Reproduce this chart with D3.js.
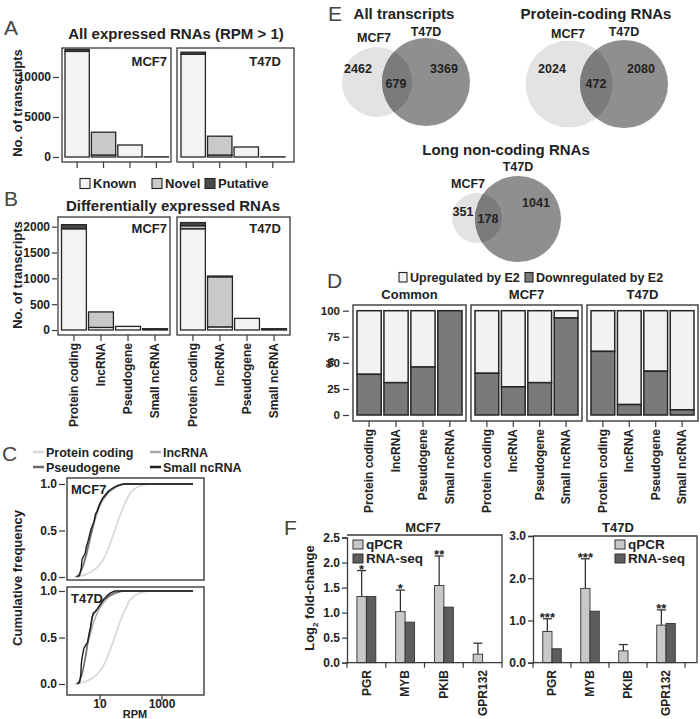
<!DOCTYPE html>
<html><head><meta charset="utf-8">
<script src="https://cdn.jsdelivr.net/npm/d3@7"></script>
<style>
body{margin:0;background:#fff}
text{font-family:"Liberation Sans",Arial,Helvetica,sans-serif}
</style>
</head><body>
<svg id="c" width="700" height="719"></svg>
<script>
// ---------------- DATA ----------------
const rnaTypes = ["Protein coding", "lncRNA", "Pseudogene", "Small ncRNA"];
const segNames = ["Known", "Novel", "Putative"];
// Panel A: all expressed RNAs (RPM > 1)
const allKnownMCF7 = [13200, 250, 1500, 20];
const allNovelMCF7 = [0, 2850, 0, 0];
const allPutativeMCF7 = [250, 0, 0, 0];
const allKnownT47D = [12850, 250, 1250, 20];
const allNovelT47D = [0, 2350, 0, 0];
const allPutativeT47D = [250, 0, 0, 0];
const allTicks = [0, 5000, 10000];
// Panel B: differentially expressed RNAs
const deKnownMCF7 = [1960, 50, 70, 25];
const deNovelMCF7 = [0, 300, 0, 0];
const dePutativeMCF7 = [80, 0, 0, 0];
const deKnownT47D = [1960, 60, 225, 25];
const deNovelT47D = [60, 970, 0, 0];
const dePutativeT47D = [60, 15, 0, 0];
const deTicks = [0, 500, 1000, 1500, 2000];
// Panel C: cumulative frequency curves [RPM, cumulative frequency]
const cdfPcMCF7 = [[1.5,0],[2,0.005],[3,0.02],[5,0.05],[8,0.1],[12,0.17],[16,0.25],[22,0.37],[30,0.5],[45,0.67],[65,0.8],[93,0.9],[130,0.95],[200,0.98],[350,1],[10000,1]];
const cdfLncMCF7 = [[1.6,0],[2,0.02],[2.5,0.07],[3,0.13],[3.5,0.2],[4,0.28],[5,0.42],[6,0.53],[7,0.62],[9,0.73],[12,0.82],[18,0.9],[28,0.95],[40,0.98],[60,1],[10000,1]];
const cdfPseudoMCF7 = [[1.7,0],[2.2,0.03],[2.6,0.09],[3,0.15],[3.5,0.23],[4,0.31],[5,0.45],[6,0.56],[7,0.65],[9,0.76],[12,0.85],[18,0.92],[28,0.96],[40,0.99],[55,1],[10000,1]];
const cdfSmallMCF7 = [[1.9,0],[2.2,0.02],[2.5,0.1],[2.6,0.18],[2.9,0.22],[3.3,0.25],[3.6,0.32],[4,0.37],[4.6,0.45],[5.2,0.52],[5.8,0.56],[6.5,0.6],[7.2,0.68],[8,0.7],[9,0.75],[10,0.79],[12,0.84],[15,0.88],[20,0.93],[30,0.97],[45,0.99],[60,1],[10000,1]];
const cdfPcT47D = [[1.5,0],[2,0.005],[3,0.02],[5,0.05],[8,0.1],[12,0.18],[16,0.26],[22,0.38],[30,0.5],[45,0.68],[65,0.8],[90,0.9],[130,0.95],[200,0.98],[350,1],[10000,1]];
const cdfLncT47D = [[1.7,0],[2,0.02],[2.5,0.08],[3,0.18],[3.5,0.3],[4,0.42],[5,0.55],[6,0.65],[8,0.76],[10,0.82],[14,0.89],[20,0.94],[30,0.97],[45,0.99],[60,1],[10000,1]];
const cdfPseudoT47D = [[1.8,0],[2.2,0.03],[2.6,0.1],[3,0.2],[3.5,0.32],[4,0.45],[5,0.6],[5.5,0.72],[6.5,0.76],[8,0.8],[10,0.85],[13,0.9],[20,0.95],[30,0.98],[50,1],[10000,1]];
const cdfSmallT47D = [[1.9,0],[2.2,0.02],[2.4,0.1],[2.5,0.22],[2.7,0.3],[3,0.38],[3.5,0.42],[4,0.45],[4.5,0.55],[5,0.62],[5.5,0.7],[6,0.76],[7,0.78],[8,0.8],[10,0.85],[13,0.91],[17,0.95],[22,0.98],[30,1],[10000,1]];
const cdfYTicks = [0, 0.5, 1];
const cdfXTicks = [10, 1000];
// Panel E: Venn counts [MCF7 only, shared, T47D only]
const vennTitles = ["All transcripts", "Protein-coding RNAs", "Long non-coding RNAs"];
const vennAll = [2462, 679, 3369];
const vennCoding = [2024, 472, 2080];
const vennLnc = [351, 178, 1041];
// Panel D: % up / down regulated by E2
const dFacets = ["Common", "MCF7", "T47D"];
const downCommon = [39, 31, 46, 100];
const upCommon = [61, 69, 54, 0];
const downMCF7 = [40, 27, 31, 93];
const upMCF7 = [60, 73, 69, 7];
const downT47D = [61, 10, 42, 5];
const upT47D = [39, 90, 58, 95];
const pctTicks = [0, 25, 50, 75, 100];
// Panel F: qPCR validation
const genes = ["PGR", "MYB", "PKIB", "GPR132"];
const qpcrMCF7 = [1.32, 1.02, 1.54, 0.17];
const qpcrErrMCF7 = [0.52, 0.43, 0.59, 0.22];
const rnaseqMCF7 = [1.32, 0.81, 1.11, 0];
const sigMCF7 = ["*", "*", "**", ""];
const qpcrT47D = [0.74, 1.76, 0.28, 0.89];
const qpcrErrT47D = [0.3, 0.7, 0.15, 0.36];
const rnaseqT47D = [0.33, 1.22, 0, 0.93];
const sigT47D = ["***", "***", "", "**"];
const fTicksMCF7 = [0, 0.5, 1, 1.5, 2, 2.5];
const fTicksT47D = [0, 1, 2, 3];

// ---------------- DRAWING ----------------
const svg = d3.select("#c");
const INK = "#222";
const BOX = "#3a3a3a";
const colKnown = "#f3f3f3", colNovel = "#c9c9c9", colPut = "#4a4a4a";

function label(g, x, y, s, size, anchor = "start", weight = "bold", fill = INK) {
  return g.append("text").attr("x", x).attr("y", y).text(s)
    .attr("font-size", size).attr("font-weight", weight)
    .attr("text-anchor", anchor).attr("fill", fill);
}
function vlabel(g, x, y, s, size, anchor = "end") {
  return g.append("text")
    .attr("transform", `translate(${x},${y}) rotate(-90)`)
    .attr("text-anchor", anchor).attr("dy", "0.35em")
    .attr("font-size", size).attr("font-weight", "bold").attr("fill", INK).text(s);
}
function box(g, x0, y0, x1, y1, w = 1.3) {
  g.append("rect").attr("x", x0).attr("y", y0).attr("width", x1 - x0).attr("height", y1 - y0)
    .attr("fill", "none").attr("stroke", BOX).attr("stroke-width", w);
}
function leftAxis(g, x, scale, ticks, fmt, size, pad, fontSize, keepDomain) {
  const ax = g.append("g").attr("transform", `translate(${x},0)`)
    .call(d3.axisLeft(scale).tickValues(ticks).tickFormat(fmt).tickSize(size).tickPadding(pad));
  if (!keepDomain) ax.select(".domain").remove();
  else ax.select(".domain").attr("stroke", BOX).attr("stroke-width", 1.3);
  ax.selectAll(".tick line").attr("stroke", BOX).attr("stroke-width", 1.2);
  ax.selectAll(".tick text").attr("font-size", fontSize).attr("font-weight", "bold")
    .attr("fill", INK).attr("font-family", '"Liberation Sans",Arial,sans-serif');
  return ax;
}

// panel letters
[["A", 4, 35], ["B", 4, 206], ["C", 2, 461], ["D", 327, 288], ["E", 328, 21], ["F", 284, 535]]
  .forEach(([s, x, y]) => label(svg, x, y, s, 21, "start", "normal", "#444"));

// ---------- Panel A & B ----------
function stackedFacet(g, x0, x1, y0, y1, barRange, y, known, novel, putative, name, nameX, nameY, tickLen) {
  const xb = d3.scaleBand().domain(rnaTypes).range(barRange).paddingInner(0.08);
  rnaTypes.forEach((c, i) => {
    let base = 0;
    [[known[i], colKnown], [novel[i], colNovel], [putative[i], colPut]].forEach(([v, col]) => {
      if (v <= 0) return;
      g.append("rect").attr("x", xb(c)).attr("width", xb.bandwidth())
        .attr("y", y(base + v)).attr("height", y(base) - y(base + v))
        .attr("fill", col).attr("stroke", "#252525").attr("stroke-width", 1.3);
      base += v;
    });
    g.append("line").attr("x1", xb(c) + xb.bandwidth() / 2).attr("x2", xb(c) + xb.bandwidth() / 2)
      .attr("y1", y1).attr("y2", y1 + tickLen).attr("stroke", BOX).attr("stroke-width", 1.2);
  });
  box(g, x0, y0, x1, y1);
  label(g, nameX, nameY, name, 13, "end");
  return xb;
}

const gA = svg.append("g");
label(gA, 176, 39, "All expressed RNAs (RPM > 1)", 15, "middle");
const yA = d3.scaleLinear().domain([0, 10000]).range([157, 77]);
stackedFacet(gA, 62, 171, 48, 162, [65, 168.5], yA, allKnownMCF7, allNovelMCF7, allPutativeMCF7, "MCF7", 167, 66, 6);
stackedFacet(gA, 177, 294, 48, 162, [181, 285], yA, allKnownT47D, allNovelT47D, allPutativeT47D, "T47D", 281, 66, 6);
leftAxis(gA, 59, yA, allTicks, d3.format("d"), 6, 2, 12);
vlabel(gA, 17, 103, "No. of transcripts", 13, "middle");
// legend A
[[segNames[0], colKnown, 80], [segNames[1], colNovel, 152], [segNames[2], colPut, 205]].forEach(([s, col, x]) => {
  gA.append("rect").attr("x", x).attr("y", 178.5).attr("width", 10).attr("height", 10)
    .attr("fill", col).attr("stroke", "#252525").attr("stroke-width", 1.1);
  label(gA, x + 13, 188, s, 13);
});

const gB = svg.append("g");
label(gB, 173, 211, "Differentially expressed RNAs", 15, "middle");
const yB = d3.scaleLinear().domain([0, 2000]).range([330, 226.7]);
const xbBm = stackedFacet(gB, 58, 170, 217, 335, [61.5, 167.5], yB, deKnownMCF7, deNovelMCF7, dePutativeMCF7, "MCF7", 167, 233, 6);
const xbBt = stackedFacet(gB, 177, 290, 217, 335, [180.5, 286.5], yB, deKnownT47D, deNovelT47D, dePutativeT47D, "T47D", 281, 233, 6);
leftAxis(gB, 57, yB, deTicks, d3.format("d"), 5, 2, 12);
vlabel(gB, 17, 275, "No. of transcripts", 13, "middle");
[xbBm, xbBt].forEach(xb => rnaTypes.forEach(c => vlabel(gB, xb(c) + xb.bandwidth() / 2, 343, c, 12)));

// ---------- Panel C ----------
const gC = svg.append("g");
const cdfColors = ["#d6d6d6", "#a9a9a9", "#6b6b6b", "#1e1e1e"];
const legC = [[rnaTypes[0], cdfColors[0], 33, 452], [rnaTypes[1], cdfColors[1], 150, 452],
              ["Pseudogene", cdfColors[2], 33, 467], [rnaTypes[3], cdfColors[3], 150, 467]];
legC.forEach(([s, col, x, y]) => {
  gC.append("line").attr("x1", x).attr("x2", x + 11).attr("y1", y).attr("y2", y)
    .attr("stroke", col).attr("stroke-width", 2.5);
  label(gC, x + 13, y + 4.5, s, 12.5);
});
const xC = d3.scaleLog().domain([10, 1000]).range([100, 162]);
function cdfFacet(y0, y1, yZero, yOne, series, name) {
  const y = d3.scaleLinear().domain([0, 1]).range([yZero, yOne]);
  const line = d3.line().x(d => xC(d[0])).y(d => y(d[1]));
  series.forEach((s, i) => gC.append("path").datum(s).attr("d", line).attr("fill", "none")
    .attr("stroke", cdfColors[i]).attr("stroke-width", i === 0 ? 1.6 : 1.4).attr("stroke-linejoin", "round"));
  box(gC, 67, y0, 204, y1, 1.4);
  leftAxis(gC, 65, y, cdfYTicks, d3.format(".1f"), 6, 2, 12);
  label(gC, 71, y0 + 16, name, 13);
}
cdfFacet(478, 580, 577, 484, [cdfPcMCF7, cdfLncMCF7, cdfPseudoMCF7, cdfSmallMCF7], "MCF7");
cdfFacet(587, 695, 684, 591, [cdfPcT47D, cdfLncT47D, cdfPseudoT47D, cdfSmallT47D], "T47D");
cdfXTicks.forEach(v => {
  gC.append("line").attr("x1", xC(v)).attr("x2", xC(v)).attr("y1", 695).attr("y2", 700)
    .attr("stroke", BOX).attr("stroke-width", 1.2);
  label(gC, xC(v), 708, d3.format("d")(v), 12, "middle");
});
label(gC, 135, 718, "RPM", 11, "middle");
vlabel(gC, 17, 578, "Cumulative frequency", 13, "middle");

// ---------- Panel E ----------
const gE = svg.append("g");
function venn(id, title, tx, ty, c1, c2, labs) {
  label(gE, tx, ty, title, 15, "middle");
  const [x1, y1, r1] = c1, [x2, y2, r2] = c2;
  gE.append("clipPath").attr("id", id).append("circle").attr("cx", x2).attr("cy", y2).attr("r", r2);
  gE.append("circle").attr("cx", x1).attr("cy", y1).attr("r", r1).attr("fill", "#e3e3e3");
  gE.append("circle").attr("cx", x2).attr("cy", y2).attr("r", r2).attr("fill", "#8f8f8f");
  gE.append("circle").attr("cx", x1).attr("cy", y1).attr("r", r1).attr("fill", "#7b7b7b").attr("clip-path", `url(#${id})`);
  labs.forEach(([s, x, y]) => label(gE, x, y, s, 12.5, "middle"));
}
venn("v1", vennTitles[0], 404, 19, [377, 82, 35], [426, 82, 44],
  [["MCF7", 374, 42], ["T47D", 426, 36], [vennAll[0], 358, 73], [vennAll[1], 396, 88], [vennAll[2], 444, 73]]);
venn("v2", vennTitles[1], 596, 19, [569, 84, 43.5], [624, 84, 44],
  [["MCF7", 568, 38], ["T47D", 624, 36], [vennCoding[0], 552, 73], [vennCoding[1], 596, 88], [vennCoding[2], 641, 73]]);
venn("v3", vennTitles[2], 506, 155, [477, 218, 25], [518, 219, 43],
  [["T47D", 518, 171], ["MCF7", 468, 188], [vennLnc[0], 463, 216], [vennLnc[1], 488, 223], [vennLnc[2], 536, 207]]);

// ---------- Panel D ----------
const gD = svg.append("g");
const colUp = "#f2f2f2", colDown = "#7a7a7a";
[["Upregulated by E2", colUp, 399], ["Downregulated by E2", colDown, 525]].forEach(([s, col, x]) => {
  gD.append("rect").attr("x", x).attr("y", 272.5).attr("width", 8).attr("height", 9.5)
    .attr("fill", col).attr("stroke", "#252525").attr("stroke-width", 1.1);
  label(gD, x + 11, 282, s, 12.5);
});
const yD = d3.scaleLinear().domain([0, 100]).range([415, 310.7]);
const dBoxes = [[353, 466], [471, 582], [587, 698]];
const dDown = [downCommon, downMCF7, downT47D];
const dUp = [upCommon, upMCF7, upT47D];
dFacets.forEach((f, k) => {
  const [x0, x1] = dBoxes[k];
  label(gD, (x0 + x1) / 2, 299, f, 13, "middle");
  const xb = d3.scaleBand().domain(rnaTypes).range([x0 + 4, x1 - 4]).paddingInner(0.1);
  rnaTypes.forEach((c, i) => {
    const dn = dDown[k][i], up = dUp[k][i];
    if (up > 0) gD.append("rect").attr("x", xb(c)).attr("width", xb.bandwidth())
      .attr("y", yD(dn + up)).attr("height", yD(dn) - yD(dn + up))
      .attr("fill", colUp).attr("stroke", "#252525").attr("stroke-width", 1.5);
    if (dn > 0) gD.append("rect").attr("x", xb(c)).attr("width", xb.bandwidth())
      .attr("y", yD(dn)).attr("height", yD(0) - yD(dn))
      .attr("fill", colDown).attr("stroke", "#252525").attr("stroke-width", 1.5);
    const cx = xb(c) + xb.bandwidth() / 2;
    gD.append("line").attr("x1", cx).attr("x2", cx).attr("y1", 421).attr("y2", 427)
      .attr("stroke", BOX).attr("stroke-width", 1.2);
    vlabel(gD, cx, 429, c, 12);
  });
  box(gD, x0, 305, x1, 421, 1.4);
});
leftAxis(gD, 349, yD, pctTicks, d3.format("d"), 6, 3, 11.5);
vlabel(gD, 330, 363, "%", 11.5, "middle");

// ---------- Panel F ----------
const gF = svg.append("g");
const colQ = "#c8c8c8", colR = "#5d5d5d";
function fPanel(name, titleX, xr, boxRight, yTop, yScale, ticks, fmt, q, qe, r, sig, legX) {
  const x = d3.scaleBand().domain(genes).range(xr);
  const sub = d3.scaleBand().domain(["qPCR", "RNA-seq"]).range([0, x.bandwidth()]).paddingOuter(1.05);
  genes.forEach((gname, i) => {
    const xq = x(gname) + sub("qPCR"), xr2 = x(gname) + sub("RNA-seq"), bw = sub.bandwidth();
    if (q[i] > 0) gF.append("rect").attr("x", xq).attr("width", bw).attr("y", yScale(q[i]))
      .attr("height", yScale(0) - yScale(q[i])).attr("fill", colQ).attr("stroke", "#333").attr("stroke-width", 0.9);
    if (r[i] > 0) gF.append("rect").attr("x", xr2).attr("width", bw).attr("y", yScale(r[i]))
      .attr("height", yScale(0) - yScale(r[i])).attr("fill", colR).attr("stroke", "#333").attr("stroke-width", 0.9);
    const cx = xq + bw / 2, top = yScale(q[i] + qe[i]);
    gF.append("line").attr("x1", cx).attr("x2", cx).attr("y1", yScale(q[i])).attr("y2", top)
      .attr("stroke", "#333").attr("stroke-width", 1.3);
    gF.append("line").attr("x1", cx - 4.5).attr("x2", cx + 4.5).attr("y1", top).attr("y2", top)
      .attr("stroke", "#333").attr("stroke-width", 1.3);
    if (sig[i]) label(gF, cx, top + 3, sig[i], 13, "middle");
    gF.append("line").attr("x1", x(gname)).attr("x2", x(gname)).attr("y1", yScale(0)).attr("y2", yScale(0) + 5)
      .attr("stroke", BOX).attr("stroke-width", 1.2);
    vlabel(gF, x(gname) + x.bandwidth() / 2, 670, gname, 12);
  });
  gF.append("line").attr("x1", xr[1]).attr("x2", xr[1]).attr("y1", yScale(0)).attr("y2", yScale(0) + 5)
    .attr("stroke", BOX).attr("stroke-width", 1.2);
  gF.append("path").attr("d", `M${xr[0]},${yTop}H${boxRight}V${yScale(0)}H${xr[0]}`)
    .attr("fill", "none").attr("stroke", BOX).attr("stroke-width", 1.3);
  leftAxis(gF, xr[0], yScale, ticks, fmt, 5, 2, 12, true);
  label(gF, titleX, 532, name, 13, "middle");
  [["qPCR", colQ, 540], ["RNA-seq", colR, 554]].forEach(([s, col, y]) => {
    gF.append("rect").attr("x", legX).attr("y", y).attr("width", 10).attr("height", 9)
      .attr("fill", col).attr("stroke", "#333").attr("stroke-width", 1);
    label(gF, legX + 13, y + 9, s, 13.5);
  });
}
const yFm = d3.scaleLinear().domain([0, 2.5]).range([662.7, 537.5]);
const yFt = d3.scaleLinear().domain([0, 3]).range([662.7, 536]);
fPanel("MCF7", 423, [347, 502], 502, 535, yFm, fTicksMCF7, d3.format(".1f"), qpcrMCF7, qpcrErrMCF7, rnaseqMCF7, sigMCF7, 353);
fPanel("T47D", 618, [533, 685], 697, 536, yFt, fTicksT47D, d3.format(".1f"), qpcrT47D, qpcrErrT47D, rnaseqT47D, sigT47D, 615);
const lg = gF.append("text").attr("transform", "translate(309,598) rotate(-90)").attr("text-anchor", "middle")
  .attr("dy", "0.35em").attr("font-size", 13).attr("font-weight", "bold").attr("fill", INK);
lg.append("tspan").text("Log");
lg.append("tspan").text("2").attr("font-size", 8).attr("dy", "4");
lg.append("tspan").text(" fold-change").attr("dy", "-4");
</script>
</body></html>
